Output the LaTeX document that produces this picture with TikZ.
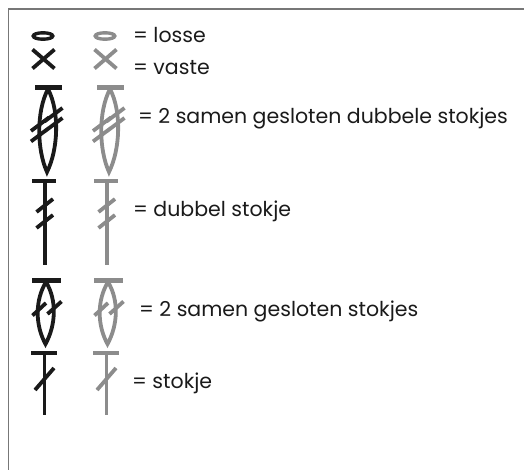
\documentclass[tikz,border=0pt]{standalone}
\usepackage{fontspec}
\setmainfont{Poppins}
\definecolor{ink}{HTML}{1A1A1A}
\definecolor{ash}{HTML}{8C8C8C}
\definecolor{framec}{HTML}{777777}
\begin{document}
\begin{tikzpicture}[x=1pt,y=-1pt,
  stroke/.style={line width=3.8pt},
  barline/.style={line width=4.5pt},
  lbl/.style={anchor=base west, inner sep=0pt, font=\fontsize{20.5}{24}\selectfont, text=ink}]
\useasboundingbox (0,0) rectangle (524,470);
\draw[framec, line width=1.5pt] (8.5,470) -- (8.5,9) -- (524,9);
\foreach \dx/\col in {0/ink,62/ash}{
 \begin{scope}[shift={(\dx,0)}, draw=\col]
  % losse
  \draw[line width=3.4pt] (43,36) ellipse [x radius=9.8, y radius=3.2];
  % vaste
  \draw[stroke] (32.5,49.5) -- (54.5,68.5) (32.5,68.5) -- (54.5,49.5);
  % 2 samen gesloten dubbele stokjes
  \draw[barline] (35,87.5) -- (61.5,87.5);
  \draw[stroke] (48,89) .. controls (36,112) and (37,150) .. (47,172) .. controls (58,150) and (60,112) .. (48,89);
  \draw[stroke] (44.5,121.5) -- (62.5,108) (44.5,131.5) -- (62.5,118) (31,131) -- (49,117.5) (31,141.5) -- (49,128);
  % dubbel stokje
  \draw[barline] (32,181) -- (56,181);
  \draw[stroke] (45,181) -- (45,265);
  \draw[stroke] (36.5,212) -- (53,199) (36.5,228) -- (53,215);
  % 2 samen gesloten stokjes
  \draw[barline] (32,280.5) -- (60.5,280.5);
  \draw[stroke] (46,282) .. controls (35,300) and (35,325) .. (45.5,344) .. controls (56,325) and (57,300) .. (46,282);
  \draw[stroke] (32.5,315.5) -- (46,303) (47.5,314) -- (61.5,301.5);
  % stokje
  \draw[barline] (31,353) -- (57,353);
  \draw[stroke] (44.5,353) -- (44.5,415);
  \draw[stroke] (35,390) -- (54,368);
 \end{scope}
}
\node[lbl] (t1) at (133,43) {= losse};
\node[lbl] (t2) at (133,75) {= vaste};
\node[lbl] (t3) at (138,124) {= 2 samen gesloten dubbele stokjes};
\node[lbl] (t4) at (133,217) {= dubbel stokje};
\node[lbl] (t5) at (139,316) {= 2 samen gesloten stokjes};
\node[lbl] (t6) at (132,388) {= stokje};
\end{tikzpicture}
\end{document}
